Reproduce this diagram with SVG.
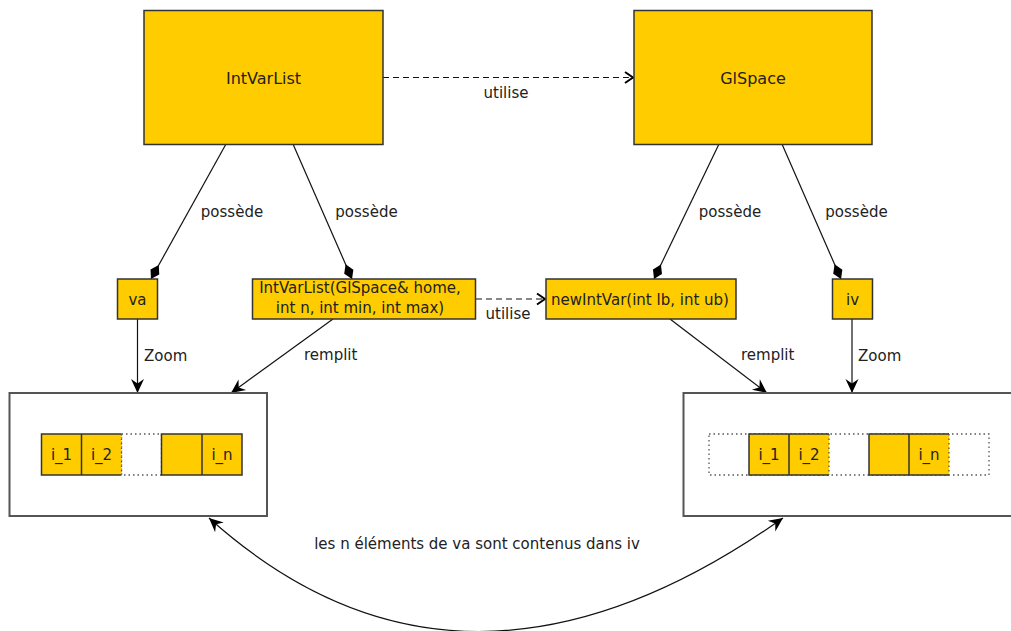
<svg xmlns="http://www.w3.org/2000/svg" width="1011" height="631" viewBox="0 0 1011 631">
<style>
.box{fill:#FFCC00;stroke:#333;stroke-width:1.5}
.cont{fill:#fff;stroke:#555;stroke-width:2}
.dot{fill:none;stroke:#555;stroke-width:1.3;stroke-dasharray:1.5 3}
.cell{fill:#FFCC00;stroke:none}
.cl{stroke:#333;stroke-width:1.5;fill:none}
.t{font-family:"DejaVu Sans",Verdana,sans-serif;font-size:15px;fill:#222}
.big{font-size:16px;text-anchor:middle}
.c{text-anchor:middle}
.ln{stroke:#111;stroke-width:1.2;fill:none}
.dash{stroke-dasharray:6 4}
</style>
<defs>
<marker id="arrow" viewBox="-15 -8 16 16" refX="0" refY="0" markerWidth="16" markerHeight="16" markerUnits="userSpaceOnUse" orient="auto-start-reverse">
<path d="M0,0 L-14,-6.5 L-9.5,0 L-14,6.5 Z" fill="#000"/>
</marker>
<marker id="open" viewBox="-11 -7 12 14" refX="0" refY="0" markerWidth="12" markerHeight="14" markerUnits="userSpaceOnUse" orient="auto">
<path d="M-8,-5.5 L0,0 L-8,5.5" fill="none" stroke="#000" stroke-width="2"/>
</marker>
<marker id="diamond" viewBox="-18 -6 19 12" refX="0" refY="0" markerWidth="19" markerHeight="12" markerUnits="userSpaceOnUse" orient="auto">
<path d="M0,0 L-8,-5 L-16,0 L-8,5 Z" fill="#000"/>
</marker>
</defs>
<rect width="1011" height="631" fill="#fff"/>

<g id="connectors">
<line class="ln dash" x1="383" y1="77.5" x2="633" y2="77.5" marker-end="url(#open)"/>
<text class="t c" x="506" y="98">utilise</text>
<line class="ln" x1="226" y1="144" x2="151" y2="279" marker-end="url(#diamond)"/>
<text class="t c" x="232" y="217">possède</text>
<line class="ln" x1="293" y1="144" x2="352" y2="279" marker-end="url(#diamond)"/>
<text class="t c" x="366.5" y="217">possède</text>
<line class="ln" x1="719" y1="144" x2="654" y2="279" marker-end="url(#diamond)"/>
<text class="t c" x="730" y="217">possède</text>
<line class="ln" x1="782" y1="144" x2="841" y2="279" marker-end="url(#diamond)"/>
<text class="t c" x="856.5" y="217">possède</text>
<line class="ln dash" x1="476" y1="299" x2="545" y2="299" marker-end="url(#open)"/>
<text class="t c" x="508" y="319">utilise</text>
<line class="ln" x1="137.5" y1="319" x2="137.5" y2="393" marker-end="url(#arrow)"/>
<text class="t" x="144" y="361">Zoom</text>
<line class="ln" x1="852" y1="319" x2="852" y2="393" marker-end="url(#arrow)"/>
<text class="t" x="858" y="361">Zoom</text>
<line class="ln" x1="333" y1="319" x2="231" y2="393" marker-end="url(#arrow)"/>
<text class="t" x="304" y="360">remplit</text>
<line class="ln" x1="670" y1="319" x2="767" y2="393" marker-end="url(#arrow)"/>
<text class="t" x="741" y="360">remplit</text>
<path class="ln" d="M209,518 Q462,745 783,518" marker-start="url(#arrow)" marker-end="url(#arrow)"/>
<text class="t c" x="477" y="549">les n éléments de va sont contenus dans iv</text>
</g>

<g id="IntVarList">
<rect class="box" x="144" y="10.5" width="239" height="134"/>
<text class="t big" x="263.5" y="84">IntVarList</text>
</g>
<g id="GlSpace">
<rect class="box" x="634" y="10.5" width="238" height="134"/>
<text class="t big" x="753" y="84">GlSpace</text>
</g>
<g id="va">
<rect class="box" x="117.5" y="279" width="40" height="40"/>
<text class="t c" x="137.5" y="305">va</text>
</g>
<g id="IntVarListCtor">
<rect class="box" x="252.5" y="279" width="223" height="40"/>
<text class="t c" x="360" y="293">IntVarList(GlSpace&amp; home,</text>
<text class="t c" x="360" y="313">int n, int min, int max)</text>
</g>
<g id="newIntVar">
<rect class="box" x="546" y="279" width="190" height="40"/>
<text class="t c" x="640" y="305">newIntVar(int lb, int ub)</text>
</g>
<g id="iv">
<rect class="box" x="832.5" y="279" width="40" height="40"/>
<text class="t c" x="852.5" y="305">iv</text>
</g>

<g id="va-array">
<rect class="cont" x="9.5" y="393" width="257.5" height="123"/>
<rect class="dot" x="121.5" y="434" width="40" height="41"/>
<rect class="cell" x="41.5" y="434" width="80" height="41"/>
<path class="cl" d="M121.5,434 H41.5 V475 H121.5 M81.5,434 V475"/>
<line class="dot" x1="121.5" y1="434" x2="121.5" y2="475"/>
<rect class="cell" x="161.5" y="434" width="80.5" height="41"/>
<rect class="cl" x="161.5" y="434" width="80.5" height="41"/>
<line class="cl" x1="202" y1="434" x2="202" y2="475"/>
<text class="t c" x="61.5" y="460">i_1</text>
<text class="t c" x="101.5" y="460">i_2</text>
<text class="t c" x="222" y="460">i_n</text>
</g>

<g id="iv-array">
<rect class="cont" x="683.5" y="393" width="340" height="123"/>
<rect class="dot" x="709" y="434" width="280" height="41"/>
<rect class="cell" x="749" y="434" width="80" height="41"/>
<path class="cl" d="M829,434 H749 V475 H829 M789,434 V475"/>
<line class="dot" x1="829" y1="434" x2="829" y2="475"/>
<rect class="cell" x="869" y="434" width="80" height="41"/>
<path class="cl" d="M949,434 H869 V475 H949 M909,434 V475"/>
<line class="dot" x1="949" y1="434" x2="949" y2="475"/>
<text class="t c" x="769" y="460">i_1</text>
<text class="t c" x="809" y="460">i_2</text>
<text class="t c" x="929" y="460">i_n</text>
</g>
</svg>
